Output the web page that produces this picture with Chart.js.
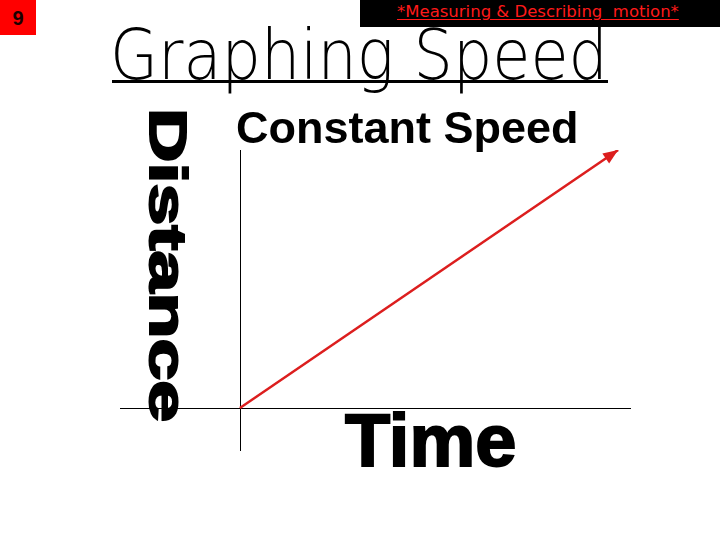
<!DOCTYPE html>
<html>
<head>
<meta charset="utf-8">
<script src="https://cdn.jsdelivr.net/npm/chart.js@4/dist/chart.umd.min.js"></script>
<style>
  html, body { margin: 0; padding: 0; background: #fff; }
  #wrap { position: relative; width: 720px; height: 540px; overflow: hidden; background: #fff; }
  #c { position: absolute; left: 0; top: 0; }
  .abs { position: absolute; white-space: nowrap; }
  #num { left: 0; top: 0; width: 36px; height: 35px; background: #ff0000; color: #1a0000;
         font: bold 20px "Liberation Sans", Arial, sans-serif; line-height: 36px; text-align: center; }
  #topbar { left: 360px; top: 0; width: 360px; height: 27px; background: #000; }
  #topic { left: 397px; top: 2px; color: #ff1a1a; font: 16.5px "DejaVu Sans", sans-serif;
           text-decoration: underline; text-underline-offset: 2px; }
  #heading { left: 110px; top: 14px; font: 200 62px "DejaVu Sans", sans-serif; color: #000;
             transform-origin: 0 0; transform: scaleY(1.12); letter-spacing: 0px; }
  #rule { left: 112px; top: 80px; width: 496px; height: 3px; background: #000; }
  #ctitle { left: 236px; top: 102px; font: bold 45px "Liberation Sans", Arial, sans-serif; color: #000; }
  #dist { left: 194px; top: 108px; font: bold 52px "Liberation Sans", Arial, sans-serif; color: #000;
          transform-origin: 0 0; transform: rotate(90deg) scale(1.45, 1); -webkit-text-stroke: 2px #000; line-height: 1; }
  #time { left: 345px; top: 404px; font: bold 74px "Liberation Sans", Arial, sans-serif; color: #000;
          -webkit-text-stroke: 2px #000; line-height: 1; }
</style>
</head>
<body>
<div id="wrap">
  <canvas id="c" width="720" height="540"></canvas>
  <div id="num" class="abs">9</div>
  <div id="topbar" class="abs"></div>
  <div id="topic" class="abs">*Measuring &amp; Describing&nbsp; motion*</div>
  <div id="heading" class="abs">Graphing Speed</div>
  <div id="rule" class="abs"></div>
  <div id="ctitle" class="abs">Constant Speed</div>
  <div id="dist" class="abs">Distance</div>
  <div id="time" class="abs">Time</div>
</div>
<script>
// Data
const timeValues = [0, 10];
const distanceValues = [0, 10];
const seriesLabel = "Constant Speed";

const points = timeValues.map((t, i) => ({ x: t, y: distanceValues[i] }));

const axesPlugin = {
  id: 'crossAxes',
  beforeDatasetsDraw(chart) {
    const { ctx, chartArea, scales } = chart;
    const x0 = Math.round(scales.x.getPixelForValue(0)) + 0.5;
    const y0 = Math.round(scales.y.getPixelForValue(0)) + 0.5;
    ctx.save();
    ctx.strokeStyle = '#000';
    ctx.lineWidth = 1;
    ctx.beginPath();
    ctx.moveTo(chartArea.left, y0);
    ctx.lineTo(chartArea.right, y0);
    ctx.moveTo(x0, chartArea.top);
    ctx.lineTo(x0, chartArea.bottom);
    ctx.stroke();
    ctx.restore();
  }
};

const arrowPlugin = {
  id: 'arrowHead',
  afterDatasetsDraw(chart) {
    const meta = chart.getDatasetMeta(0);
    const pts = meta.data;
    if (pts.length < 2) return;
    const a = pts[pts.length - 2], b = pts[pts.length - 1];
    const ang = Math.atan2(b.y - a.y, b.x - a.x);
    const len = 15, half = 6;
    const { ctx } = chart;
    ctx.save();
    ctx.fillStyle = '#dc1e1e';
    ctx.translate(b.x, b.y);
    ctx.rotate(ang);
    ctx.beginPath();
    ctx.moveTo(0, 0);
    ctx.lineTo(-len, -half);
    ctx.lineTo(-len, half);
    ctx.closePath();
    ctx.fill();
    ctx.restore();
  }
};

new Chart(document.getElementById('c'), {
  type: 'scatter',
  data: {
    datasets: [{
      label: seriesLabel,
      data: points,
      showLine: true,
      borderColor: '#dc1e1e',
      borderWidth: 2.5,
      pointRadius: 0,
      fill: false
    }]
  },
  options: {
    responsive: false,
    animation: false,
    layout: { padding: { left: 120, right: 89, top: 150, bottom: 89 } },
    plugins: { legend: { display: false }, tooltip: { enabled: false }, title: { display: false } },
    scales: {
      x: { type: 'linear', display: false, min: -3.17, max: 10.34 },
      y: { type: 'linear', display: false, min: -1.667, max: 10 }
    }
  },
  plugins: [axesPlugin, arrowPlugin]
});
</script>
</body>
</html>
